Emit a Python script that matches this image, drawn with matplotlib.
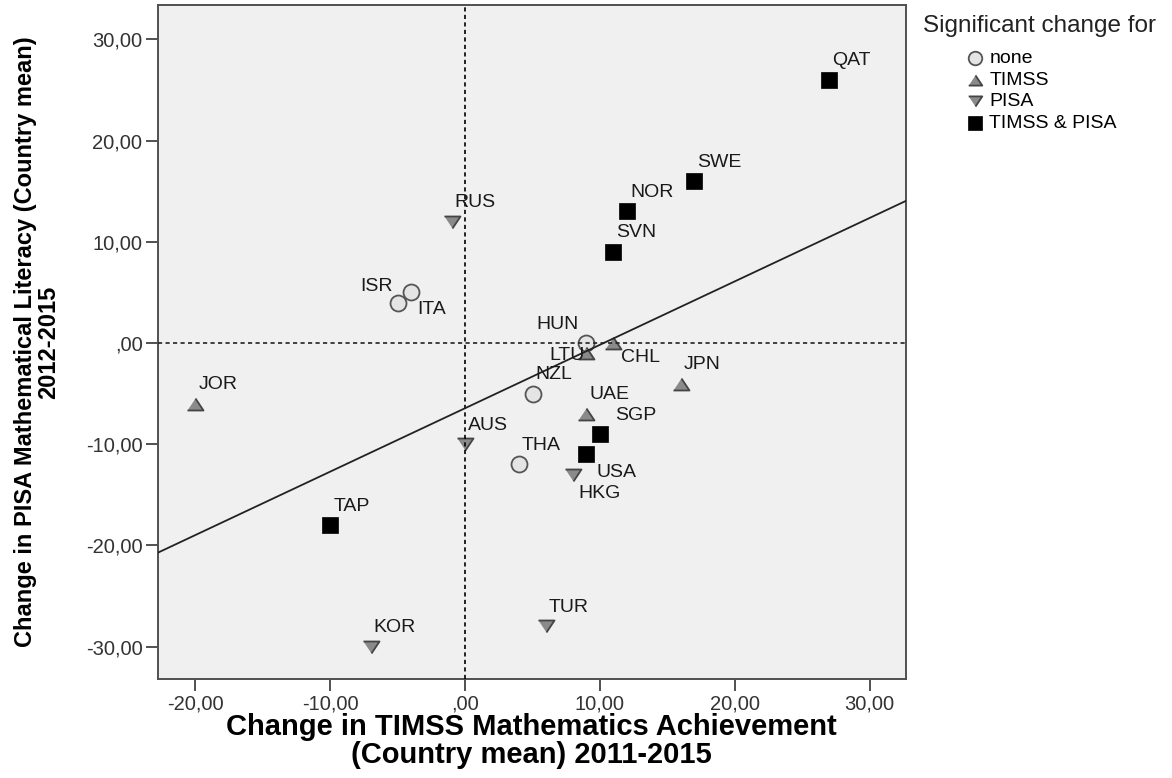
import numpy as np
import matplotlib
matplotlib.use("Agg")
import matplotlib.pyplot as plt
from matplotlib.ticker import FuncFormatter, MultipleLocator

plt.rcParams['font.family'] = ['Liberation Sans', 'DejaVu Sans']

# change 2011-2015 (TIMSS) and 2012-2015 (PISA) per country
countries = ['HUN', 'ISR', 'ITA', 'NZL', 'THA',
             'JOR', 'LTU', 'CHL', 'JPN', 'UAE',
             'RUS', 'AUS', 'HKG', 'KOR', 'TUR',
             'QAT', 'SWE', 'NOR', 'SVN', 'SGP', 'USA', 'TAP']
timss_change = [9, -5, -4, 5, 4,
                -20, 9, 11, 16, 9,
                -1, 0, 8, -7, 6,
                27, 17, 12, 11, 10, 9, -10]
pisa_change = [0, 4, 5, -5, -12,
               -6, -1, 0, -4, -7,
               12, -10, -13, -30, -28,
               26, 16, 13, 9, -9, -11, -18]
significance = ['none'] * 5 + ['TIMSS'] * 5 + ['PISA'] * 5 + ['TIMSS & PISA'] * 7
groups = ['none', 'TIMSS', 'PISA', 'TIMSS & PISA']

tri_up = [(-1, -0.75), (1, -0.75), (0, 0.75)]
tri_down = [(-1, 0.75), (1, 0.75), (0, -0.75)]
marker_style = {
    'none': dict(marker='o', s=11.5 ** 2, facecolors='#e4e4e4', edgecolors='#555555', linewidths=1.3),
    'TIMSS': dict(marker=tri_up, s=11.5 ** 2, facecolors='#8a8a8a', edgecolors='#444444', linewidths=1.3),
    'PISA': dict(marker=tri_down, s=11.5 ** 2, facecolors='#8a8a8a', edgecolors='#444444', linewidths=1.3),
    'TIMSS & PISA': dict(marker='s', s=12.2 ** 2, facecolors='black', edgecolors='black', linewidths=0.5),
}

# label offsets in points: (dx, dy, horizontal alignment)
label_offset = {
    'ISR': (-3.5, 11.5, 'right'),
    'ITA': (4.3, -12, 'left'),
    'HUN': (-5.5, 13, 'right'),
    'LTU': (-1.2, -2, 'right'),
    'CHL': (5.8, -10.5, 'left'),
    'SGP': (10.8, 13.7, 'left'),
    'USA': (7.2, -13, 'left'),
    'HKG': (3.6, -13.7, 'left'),
}

fig = plt.figure(figsize=(11.72, 7.78), dpi=100)
fig.subplots_adjust(left=0.1346, right=0.773, bottom=0.1272, top=0.9936)
ax = fig.add_subplot(111)
ax.set_facecolor('#f0f0f0')

x = np.array(timss_change, dtype=float)
y = np.array(pisa_change, dtype=float)
sig = np.array(significance)

for g in groups:
    m = sig == g
    ax.scatter(x[m], y[m], label=g, zorder=2, **marker_style[g])

ax.set_xlim(-22.8, 32.7)
ax.set_ylim(-33.2, 33.4)

# reference lines at zero change and the overall linear fit
ax.axvline(0, color='black', lw=1.2, dashes=(2.5, 2), zorder=3)
ax.axhline(0, color='#222222', lw=1.2, dashes=(2.5, 2), zorder=3)
slope, intercept = np.polyfit(x, y, 1)
xs = np.array(ax.get_xlim())
ax.plot(xs, slope * xs + intercept, color='#222222', lw=1.3, zorder=3)

for name, xi, yi in zip(countries, x, y):
    dx, dy, ha = label_offset.get(name, (2.2, 13.7, 'left'))
    ax.annotate(name, (xi, yi), xytext=(dx, dy), textcoords='offset points',
                ha=ha, va='center', fontsize=14, color='#1a1a1a', zorder=4)


def comma_fmt(v, pos):
    s = '{:.2f}'.format(v).replace('.', ',')
    if s in ('0,00', '-0,00'):
        s = ',00'
    return s


ax.xaxis.set_major_locator(MultipleLocator(10))
ax.yaxis.set_major_locator(MultipleLocator(10))
ax.xaxis.set_major_formatter(FuncFormatter(comma_fmt))
ax.yaxis.set_major_formatter(FuncFormatter(comma_fmt))
ax.tick_params(length=8.5, width=1.2, color='#333333', labelsize=14.5,
               labelcolor='#333333', pad=2.5)
for sp in ax.spines.values():
    sp.set_color('#505050')
    sp.set_linewidth(1.4)

ax.set_xlabel('Change in TIMSS Mathematics Achievement\n(Country mean) 2011-2015',
              fontsize=21, fontweight='bold', linespacing=1.0)
ax.set_ylabel('Change in PISA Mathematical Literacy (Country mean)\n2012-2015',
              fontsize=17, fontweight='bold', linespacing=1.0)
ax.xaxis.set_label_coords(0.5, -0.05)
ax.yaxis.set_label_coords(-0.13, 0.5)

fig.text(923 / 1172, 1 - 26 / 778, 'Significant change for', fontsize=17.5,
         color='#222222', ha='left', va='center')
ax.legend(loc='upper left', bbox_to_anchor=(0.8242, 0.936), bbox_transform=fig.transFigure,
          frameon=False, borderpad=0, borderaxespad=0, handlelength=0.9, handletextpad=0.3,
          labelspacing=0.2, fontsize=14, markerscale=0.85)

fig.savefig('out.png', dpi=100)
